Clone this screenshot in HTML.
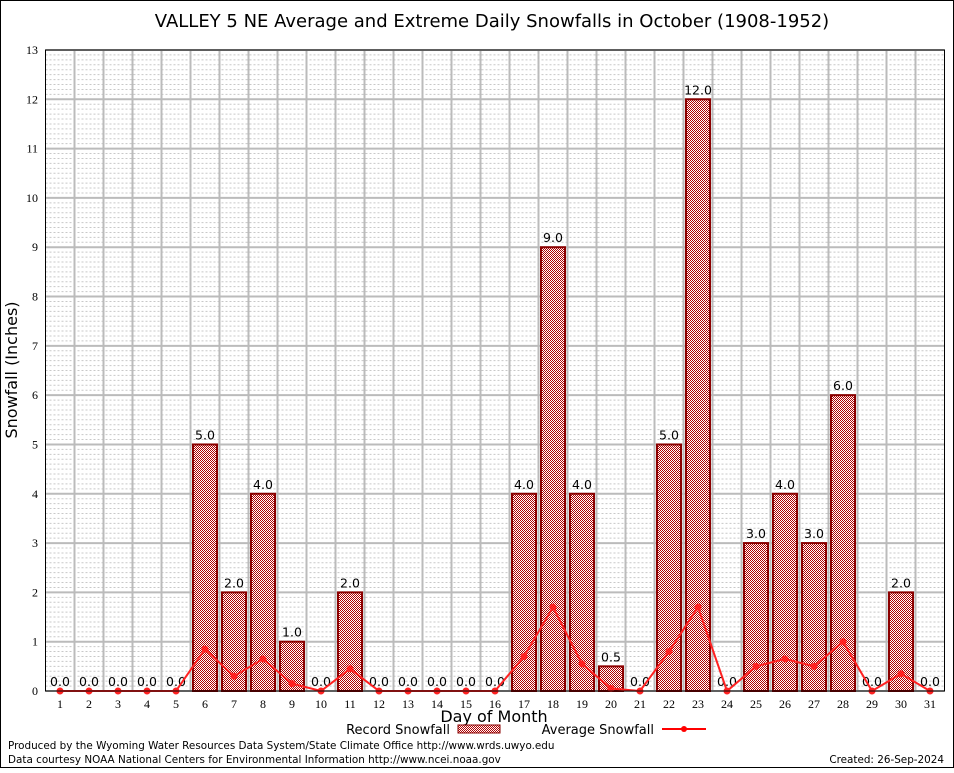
<!DOCTYPE html>
<html><head><meta charset="utf-8"><style>
body{margin:0;background:#fff}
svg text{font-family:"DejaVu Sans","Liberation Sans",sans-serif}
svg text.serif{font-family:"Liberation Serif",serif}
</style></head><body>
<svg id="c" width="954" height="768" xmlns="http://www.w3.org/2000/svg">
<defs>
<pattern id="hatch" width="2" height="2" patternUnits="userSpaceOnUse">
<rect width="2" height="2" fill="#fff"/>
<rect width="1" height="1" fill="#b00000"/>
<rect x="1" y="1" width="1" height="1" fill="#b00000"/>
</pattern>
</defs>
<rect x="0.5" y="0.5" width="953" height="767" fill="#fff" stroke="#000"/>
<text x="492" y="27" font-size="18" text-anchor="middle">VALLEY 5 NE Average and Extreme Daily Snowfalls in October (1908-1952)</text>
<g id="grid"></g>
<g id="bars"></g>
<g id="line"></g>
<g id="axes"></g>
<text transform="translate(17,370) rotate(-90)" font-size="16" text-anchor="middle">Snowfall (Inches)</text>
<text x="494" y="722" font-size="16" text-anchor="middle">Day of Month</text>
<g>
<text x="450" y="734" font-size="13" text-anchor="end">Record Snowfall</text>
<rect x="458" y="725" width="42" height="8" fill="url(#hatch)" stroke="#8b0000"/>
</g>
<g>
<text x="654" y="734" font-size="13" text-anchor="end">Average Snowfall</text>
<line x1="662" y1="729" x2="706" y2="729" stroke="#f00" stroke-width="2"/>
<circle cx="684" cy="729" r="3" fill="#f00"/>
</g>
<text x="8" y="749" font-size="10.4">Produced by the Wyoming Water Resources Data System/State Climate Office http://www.wrds.uwyo.edu</text>
<text x="8" y="763" font-size="10.4">Data courtesy NOAA National Centers for Environmental Information http://www.ncei.noaa.gov</text>
<text x="944" y="763" font-size="10.4" text-anchor="end">Created: 26-Sep-2024</text>
</svg>
<script>
const days=[1,2,3,4,5,6,7,8,9,10,11,12,13,14,15,16,17,18,19,20,21,22,23,24,25,26,27,28,29,30,31];
const records=[0,0,0,0,0,5,2,4,1,0,2,0,0,0,0,0,4,9,4,0.5,0,5,12,0,3,4,3,6,0,2,0];
const averages=[0,0,0,0,0,0.85,0.3,0.65,0.15,0,0.45,0,0,0,0,0,0.7,1.7,0.55,0.05,0,0.8,1.7,0,0.5,0.65,0.5,1.0,0,0.35,0];
const yTicks=[0,1,2,3,4,5,6,7,8,9,10,11,12,13];
const NS="http://www.w3.org/2000/svg";
const L=45.5,R=944.5,T=50,B=691,step=29;
const x=d=>60+(d-1)*step;
const y=v=>B-v*(B-T)/13;
function mk(p,tag,a){const e=document.createElementNS(NS,tag);for(const k in a)e.setAttribute(k,a[k]);document.getElementById(p).appendChild(e);return e;}
for(let i=1;i<130;i++){if(i%10===0)continue;const l=mk('grid','line',{x1:L,x2:R,y1:y(i/10),y2:y(i/10),stroke:'#c8c8c8','stroke-dasharray':'2,2','stroke-width':1});

}
yTicks.forEach(t=>{const l=mk('grid','line',{x1:L,x2:R,y1:y(t),y2:y(t),stroke:'#bbb','stroke-width':2});


const tx=mk('axes','text',{x:38,y:y(t)+4,'font-size':12,'text-anchor':'end','class':'serif'});tx.textContent=t;

});
for(let d=1;d<31;d++){const l=mk('grid','line',{x1:x(d)+step/2,x2:x(d)+step/2,y1:T,y2:B,stroke:'#bbb','stroke-width':2});

}
days.forEach((d,i)=>{const v=records[i];
if(v>0){const r=mk('bars','rect',{x:x(d)-12,y:y(v),width:24,height:y(0)-y(v),fill:'url(#hatch)',stroke:'#8b0000','stroke-width':2});

}
const t=mk('bars','text',{x:x(d),y:y(v)-5,'font-size':12.5,'text-anchor':'middle'});t.textContent=v.toFixed(1);


const tl=mk('axes','text',{x:x(d),y:708,'font-size':12,'text-anchor':'middle','class':'serif'});tl.textContent=d;

});
const pl=mk('line','polyline',{points:days.map((d,i)=>x(d)+','+y(averages[i])).join(' '),fill:'none',stroke:'#f22','stroke-width':2});


days.forEach((d,i)=>{const c=mk('line','circle',{cx:x(d),cy:y(averages[i]),r:3.5,fill:'#f22'});

});
const ax=mk('axes','rect',{x:L,y:T,width:R-L,height:B-T,fill:'none',stroke:'#000','stroke-width':1});


</script>
</body></html>
